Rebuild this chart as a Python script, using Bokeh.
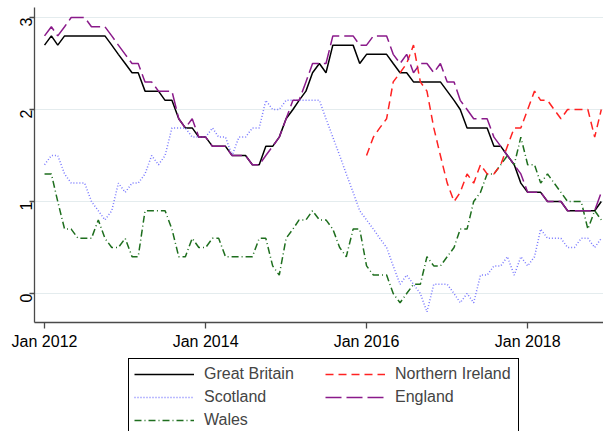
import numpy as np
import pandas as pd
from datetime import datetime
from bokeh.plotting import figure
from bokeh.layouts import column
from bokeh.models import Range1d, Legend, LegendItem, FixedTicker, DatetimeTickFormatter
from bokeh.embed import file_html
from bokeh.resources import INLINE

# ---- data (12-month % change, monthly Jan 2012 - Dec 2018) ----
months = pd.date_range("2012-01-01", "2018-12-01", freq="MS")

great_britain = [2.7, 2.8, 2.7, 2.8, 2.8, 2.8, 2.8, 2.8, 2.8, 2.8,
                 2.7, 2.6, 2.5, 2.4, 2.4, 2.2, 2.2, 2.2, 2.1, 2.1,
                 1.9, 1.8, 1.8, 1.7, 1.7, 1.6, 1.6, 1.6, 1.5, 1.5,
                 1.5, 1.4, 1.4, 1.6, 1.6, 1.7, 1.9, 2.0, 2.1, 2.2,
                 2.4, 2.5, 2.4, 2.7, 2.7, 2.7, 2.7, 2.5, 2.6, 2.6,
                 2.6, 2.6, 2.5, 2.4, 2.4, 2.3, 2.3, 2.3, 2.3, 2.3,
                 2.2, 2.1, 2.0, 1.8, 1.8, 1.8, 1.8, 1.6, 1.6, 1.5,
                 1.4, 1.2, 1.1, 1.1, 1.1, 1.0, 1.0, 1.0, 0.9, 0.9,
                 0.9, 0.9, 0.9, 1.0]

england = [2.8, 2.9, 2.8, 2.9, 3.0, 3.0, 3.0, 2.9, 2.9, 2.9,
           2.8, 2.7, 2.6, 2.5, 2.5, 2.3, 2.3, 2.2, 2.2, 2.2,
           1.9, 1.8, 1.9, 1.7, 1.7, 1.6, 1.6, 1.6, 1.5, 1.5,
           1.5, 1.4, 1.4, 1.5, 1.6, 1.7, 1.9, 2.1, 2.1, 2.3,
           2.5, 2.5, 2.5, 2.8, 2.8, 2.8, 2.8, 2.7, 2.7, 2.8,
           2.8, 2.8, 2.6, 2.5, 2.6, 2.4, 2.5, 2.5, 2.4, 2.5,
           2.3, 2.3, 2.1, 2.0, 1.9, 1.9, 1.9, 1.7, 1.6, 1.5,
           1.4, 1.3, 1.1, 1.1, 1.1, 1.0, 1.0, 1.0, 0.9, 0.9,
           0.9, 0.9, 0.9, 1.1]

scotland = [1.4, 1.5, 1.5, 1.3, 1.2, 1.2, 1.2, 1.0, 0.9, 0.8,
            0.9, 1.2, 1.1, 1.2, 1.2, 1.3, 1.5, 1.4, 1.5, 1.8,
            1.8, 1.8, 1.7, 1.7, 1.7, 1.8, 1.7, 1.7, 1.5, 1.7,
            1.7, 1.8, 1.8, 2.1, 2.0, 2.0, 2.1, 2.1, 2.1, 2.1,
            2.1, 2.1, 1.9, 1.7, 1.5, 1.3, 1.1, 0.9, 0.8, 0.7,
            0.6, 0.5, 0.3, 0.1, 0.2, 0.1, 0.0, -0.2, 0.1, 0.1,
            0.1, 0.0, -0.1, 0.0, -0.1, 0.2, 0.2, 0.3, 0.3, 0.4,
            0.2, 0.4, 0.3, 0.4, 0.7, 0.6, 0.6, 0.6, 0.5, 0.5,
            0.6, 0.6, 0.5, 0.6]

wales = [1.3, 1.3, 1.0, 0.7, 0.7, 0.6, 0.6, 0.6, 0.8, 0.6,
         0.5, 0.5, 0.6, 0.4, 0.4, 0.9, 0.9, 0.9, 0.9, 0.7,
         0.4, 0.4, 0.6, 0.5, 0.5, 0.6, 0.6, 0.4, 0.4, 0.4,
         0.4, 0.4, 0.6, 0.6, 0.3, 0.2, 0.6, 0.7, 0.8, 0.8,
         0.9, 0.8, 0.8, 0.7, 0.5, 0.4, 0.7, 0.7, 0.3, 0.2,
         0.2, 0.2, 0.0, -0.1, 0.0, 0.1, 0.1, 0.4, 0.3, 0.3,
         0.4, 0.5, 0.7, 0.7, 1.0, 1.1, 1.3, 1.3, 1.4, 1.5,
         1.4, 1.7, 1.4, 1.4, 1.2, 1.3, 1.2, 1.1, 1.0, 1.0,
         1.0, 0.7, 0.9, 0.8]

# Northern Ireland series starts Jan 2016
ni_months = pd.date_range("2016-01-01", "2018-12-01", freq="MS")
northern_ireland = [1.5, 1.7, 1.8, 1.9, 2.3, 2.4, 2.5, 2.7, 2.3, 2.2,
                    1.8, 1.5, 1.2, 1.0, 1.1, 1.3, 1.2, 1.4, 1.3, 1.3,
                    1.4, 1.6, 1.8, 1.8, 2.0, 2.2, 2.1, 2.1, 2.0, 1.9,
                    2.0, 2.0, 2.0, 2.0, 1.7, 2.0]

x_tick_dates = ["2012-01-01", "2014-01-01", "2016-01-01", "2018-01-01"]
y_ticks = [0, 1, 2, 3]

FONT = "Liberation Sans"
AXIS_COLOR = "#4a4a4a"

# (name, values, x, colour, dash)
series = [
    ("Great Britain", great_britain, months, "black", "solid"),
    ("Scotland", scotland, months, "#7878FF", "1 2"),
    ("Wales", wales, months, "#1E6E1E", "7 3 1 3"),
    ("Northern Ireland", northern_ireland, ni_months, "#FF2222", "8 5"),
    ("England", england, months, "#8A1A8A", "16 5"),
]
LW = 1.5

# ---------------- main chart ----------------
main_h = 357
p = figure(width=603, height=main_h, x_axis_type="datetime",
           output_backend="svg", toolbar_location=None,
           x_range=Range1d(datetime(2011, 11, 16, 12), datetime(2018, 12, 11)),
           y_range=Range1d(-0.315, 3.109),
           min_border_left=34, min_border_right=0, min_border_top=7,
           min_border_bottom=main_h - 322)
p.outline_line_color = None
p.background_fill_color = "white"
p.border_fill_color = "white"

p.xgrid.visible = False
p.ygrid.ticker = FixedTicker(ticks=y_ticks)
p.ygrid.grid_line_color = "#E4ECEE"
p.ygrid.grid_line_width = 1.2

tick_ms = [pd.Timestamp(d).value / 1e6 for d in x_tick_dates]
p.xaxis.ticker = FixedTicker(ticks=tick_ms)
p.xaxis.formatter = DatetimeTickFormatter(years="%b %Y", months="%b %Y", days="%b %Y")
p.yaxis.ticker = FixedTicker(ticks=y_ticks)
p.yaxis.major_label_orientation = np.pi / 2
for ax in (p.xaxis, p.yaxis):
    ax.axis_line_color = AXIS_COLOR
    ax.axis_line_width = 1.3
    ax.major_tick_line_color = AXIS_COLOR
    ax.major_tick_line_width = 1.3
    ax.minor_tick_line_color = None
    ax.major_tick_in = 0
    ax.major_label_text_font = FONT
    ax.major_label_text_font_size = "16px"
    ax.major_label_text_color = "black"
p.xaxis.major_tick_out = 6
p.xaxis.major_label_standoff = 4
p.yaxis.major_tick_out = 5
p.yaxis.major_label_standoff = 3

for name, vals, xs, col, dash in series:
    p.line(xs, vals, line_color=col, line_width=LW, line_dash=dash)

# ---------------- legend strip (bottom of box falls off the page, as in the original) ----------------
leg_h = 431 - main_h
p2 = figure(width=603, height=leg_h, output_backend="svg", toolbar_location=None,
            x_range=Range1d(0, 1), y_range=Range1d(0, 1),
            x_axis_location=None, y_axis_location=None,
            min_border_left=0, min_border_right=0, min_border_top=0, min_border_bottom=0)
p2.outline_line_color = None
p2.xgrid.visible = False
p2.ygrid.visible = False
p2.background_fill_color = "white"
p2.border_fill_color = "white"

items = []
for name, vals, xs, col, dash in series:
    # same series drawn here only to provide legend keys (they fall outside this strip's ranges)
    r = p2.line(xs, vals, line_color=col, line_width=LW, line_dash=dash)
    items.append(LegendItem(label=name, renderers=[r]))

padding = 5
legend_height = 2 * padding + 3 * 20 + 2 * 3
legend = Legend(items=items, location=(94, leg_h - legend_height - 3),
                orientation="vertical", ncols=2)
legend.glyph_width = 60
legend.glyph_height = 20
legend.label_height = 20
legend.label_width = 118
legend.label_standoff = 10
legend.padding = padding
legend.spacing = 3
legend.margin = 0
legend.label_text_font = FONT
legend.label_text_font_size = "16px"
legend.border_line_color = "black"
legend.border_line_width = 1
legend.border_line_alpha = 1
legend.background_fill_alpha = 0
p2.add_layout(legend)

layout = column(p, p2, spacing=0)
open("out.html", "w").write(file_html(layout, INLINE))
